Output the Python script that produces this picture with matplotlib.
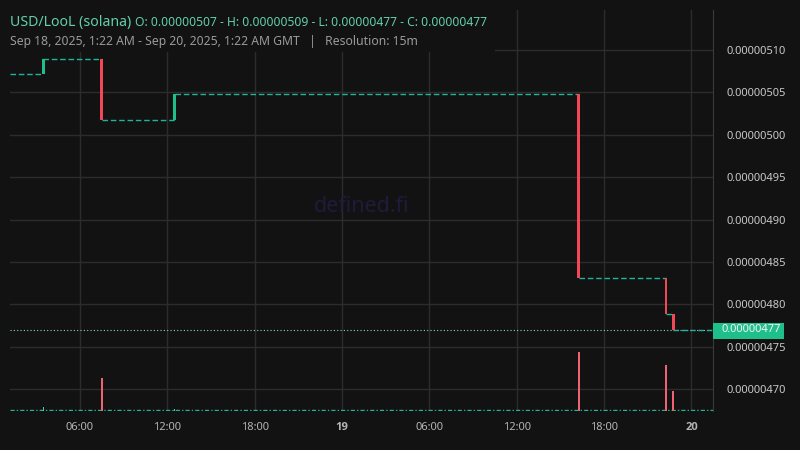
import numpy as np
import matplotlib
matplotlib.use("Agg")
import matplotlib.pyplot as plt
from matplotlib.patches import Rectangle
from matplotlib.transforms import blended_transform_factory

# hours since Sep 18, 2025 00:00 GMT
candle_t = [3.5, 7.5, 12.5, 40.25, 46.25, 46.75]
# prices in units of 1e-6
candle_open = [5.072, 5.090, 5.0175, 5.048, 4.831, 4.789]
candle_close = [5.090, 5.0175, 5.048, 4.831, 4.789, 4.770]
volume = [4, 33, 2.5, 59, 46, 20]

t_start, t_end = 1.2, 49.46
last_price = 4.770

xtick_pos = [6, 12, 18, 24, 30, 36, 42, 48]
xtick_lab = ["06:00", "12:00", "18:00", "19", "06:00", "12:00", "18:00", "20"]
ytick_pos = [4.70, 4.75, 4.80, 4.85, 4.90, 4.95, 5.00, 5.05, 5.10]

bg = "#121212"
grid_c = "#2c2c2c"
teal = "#1fb59c"
green = "#1fbf8c"
red = "#f04856"
vol_red = "#ee6470"
vol_green = "#4fcfa5"

plt.rcParams["font.family"] = ["Noto Sans", "DejaVu Sans"]

fig = plt.figure(figsize=(8, 4.5), dpi=100, facecolor=bg)
ax = fig.add_axes([10 / 800, 39 / 450, 702.7 / 800, 401 / 450])
ax.set_facecolor(bg)
ax.set_xlim(t_start, t_end)
ax.set_ylim(4.6743, 5.1472)

# grid
for x in xtick_pos:
    ax.axvline(x, color=grid_c, lw=1, zorder=0)
for y in ytick_pos:
    ax.axhline(y, color=grid_c, lw=1, zorder=0)

# flat segments between candles
seg_start = [t_start] + candle_t
seg_end = candle_t + [t_end]
seg_val = [candle_open[0]] + candle_close
for a, b, v in zip(seg_start, seg_end, seg_val):
    ax.hlines(v, a, b, color=teal, lw=1, linestyles=(0, (4, 2)), zorder=2)

# last price dotted line
ax.axhline(last_price, color="#8fd8c4", lw=0.8, ls=(0, (1, 2)), zorder=1)

# candles
w = 0.2
for t, o, c in zip(candle_t, candle_open, candle_close):
    col = green if c >= o else red
    ax.bar(t, abs(c - o), bottom=min(o, c), width=w, color=col, zorder=3)

# volume on its own scale
vax = ax.twinx()
vax.set_ylim(0, 401)
vax.axis("off")
vcols = [vol_green if c >= o else vol_red for o, c in zip(candle_open, candle_close)]
vax.bar(candle_t, volume, width=0.13, color=vcols, zorder=3)
vax.hlines(0.8, t_start, t_end, color=teal, lw=1, linestyles=(0, (3, 1.5, 1, 1.5)), zorder=2)

# axes styling
ax.yaxis.tick_right()
ax.set_yticks(ytick_pos)
ax.set_yticklabels([f"{v * 1e-6:.8f}" for v in ytick_pos])
ax.set_xticks(xtick_pos)
ax.set_xticklabels(xtick_lab)
for lab in ax.get_xticklabels():
    if lab.get_text() in ("19", "20"):
        lab.set_fontfamily(["Open Sans", "DejaVu Sans"])
        lab.set_fontweight("bold")
        lab.set_color("#d8d8d8")
ax.tick_params(axis="y", length=0, pad=10, labelsize=8, labelcolor="#c8c8c8")
ax.tick_params(axis="x", length=0, pad=8, labelsize=8, labelcolor="#b4b4b4")
for s in ["top", "left", "bottom"]:
    ax.spines[s].set_visible(False)
ax.spines["right"].set_color("#3a3a3a")

# last price label
fig.patches.append(Rectangle((712.5 / 800, 1 - 339 / 450), 71.5 / 800, 16 / 450,
                             transform=fig.transFigure, fc=green, ec="none", zorder=4))
tr = blended_transform_factory(fig.transFigure, ax.transData)
fig.text(722 / 800, last_price, f"{last_price * 1e-6:.8f}", transform=tr,
         ha="left", va="center", fontsize=8, color="#f4f4f4", zorder=5)

# watermark
ax.text(0.5, 0.51, "defined.fi", transform=ax.transAxes, ha="center", va="center",
        fontsize=15.5, color="#1e1c3a", zorder=1)

# header box hides grid behind text
fig.patches.append(Rectangle((10 / 800, 1 - 52 / 450), 485 / 800, 42 / 450,
                             transform=fig.transFigure, fc=bg, ec="none", zorder=2))
fig.text(10 / 800, 1 - 26 / 450, "USD/LooL (solana)", fontsize=10.2, color="#62cfab",
         va="baseline", zorder=3)
fig.text(135 / 800, 1 - 26 / 450,
         "O: 0.00000507 - H: 0.00000509 - L: 0.00000477 - C: 0.00000477",
         fontsize=8.7, color="#62cfab", va="baseline", zorder=3)
fig.text(10 / 800, 1 - 45 / 450,
         "Sep 18, 2025, 1:22 AM - Sep 20, 2025, 1:22 AM GMT   |   Resolution: 15m",
         fontsize=8.8, color="#9a9a9a", va="baseline", zorder=3)

fig.savefig("out.png", dpi=100, facecolor=bg)
